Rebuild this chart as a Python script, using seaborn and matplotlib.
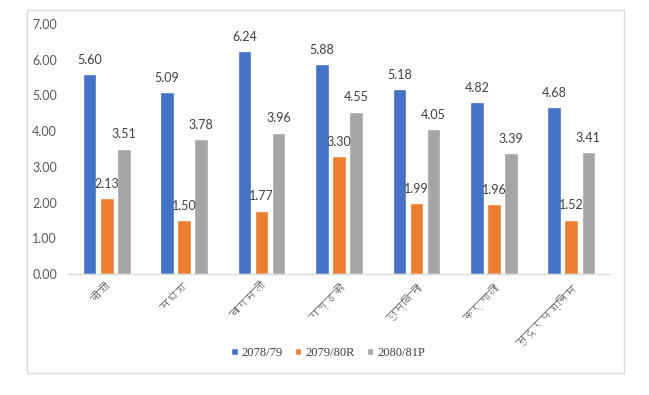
import pandas as pd
import matplotlib
matplotlib.use("Agg")
import matplotlib.pyplot as plt
import seaborn as sns
from matplotlib import font_manager
from matplotlib.patches import Rectangle

provinces = ["कोशी", "मधेश", "बागमती", "गण्डकी", "लुम्बिनी", "कर्णाली", "सुदूरपश्चिम"]
series_names = ["2078/79", "2079/80R", "2080/81P"]
vals_7879 = [5.60, 5.09, 6.24, 5.88, 5.18, 4.82, 4.68]
vals_7980 = [2.13, 1.50, 1.77, 3.30, 1.99, 1.96, 1.52]
vals_8081 = [3.51, 3.78, 3.96, 4.55, 4.05, 3.39, 3.41]
colors = ["#4472C4", "#ED7D31", "#A5A5A5"]


def find_devanagari_font():
    # look for any installed font that actually has Devanagari glyphs
    try:
        from fontTools.ttLib import TTFont
    except Exception:
        return None
    for f in font_manager.fontManager.ttflist:
        try:
            tt = TTFont(f.fname, fontNumber=0, lazy=True)
            cmap = tt.getBestCmap()
            if cmap and 0x0915 in cmap:
                return f.name
        except Exception:
            continue
    return None


deva = find_devanagari_font()

df = pd.DataFrame({
    "province": provinces * 3,
    "series": [series_names[0]] * 7 + [series_names[1]] * 7 + [series_names[2]] * 7,
    "value": vals_7879 + vals_7980 + vals_8081,
})

sns.set_theme(style="white")
plt.rcParams["font.family"] = ["Lato", "DejaVu Sans"]

fig = plt.figure(figsize=(6.49, 3.95), dpi=100)
ax = fig.add_axes([68 / 649, 1 - 274 / 395, 542 / 649, 250 / 395])

sns.barplot(data=df, x="province", y="value", hue="series", palette=colors,
            width=0.66, gap=0.2, ax=ax, legend=True, saturation=1)

for cont in ax.containers:
    ax.bar_label(cont, fmt="%.2f", padding=6, fontsize=9, color="#404040")

ax.set_ylim(0, 7)
ax.set_yticks(range(8))
ax.set_yticklabels([f"{v:.2f}" for v in range(8)], fontsize=9, color="#595959")
ax.set_xlim(-0.5, 6.5)
ax.set_xlabel("")
ax.set_ylabel("")
ax.tick_params(axis="both", length=0)
ax.tick_params(axis="y", pad=8)

fam = [deva, "DejaVu Sans"] if deva else ["DejaVu Sans"]
ax.set_xticks(range(7))
ax.set_xticklabels(provinces, rotation=45, ha="right", rotation_mode="anchor",
                   fontsize=8.5, color="#595959", family=fam)
ax.tick_params(axis="x", pad=5)

for s in ["top", "right", "left"]:
    ax.spines[s].set_visible(False)
ax.spines["bottom"].set_color("#D9D9D9")
ax.spines["bottom"].set_linewidth(1)

ax.legend(loc="center", bbox_to_anchor=(0.48, -0.317), ncol=3, frameon=False,
          handlelength=0.5, handleheight=0.5, handletextpad=0.3, columnspacing=1.0,
          prop={"family": "Liberation Serif", "size": 9}, labelcolor="#404040")

fig.patches.append(Rectangle((27 / 649, 1 - 373 / 395), 597 / 649, 363 / 395,
                             transform=fig.transFigure, fill=False,
                             edgecolor="#D9D9D9", linewidth=1))

fig.savefig("out.png", dpi=100)
